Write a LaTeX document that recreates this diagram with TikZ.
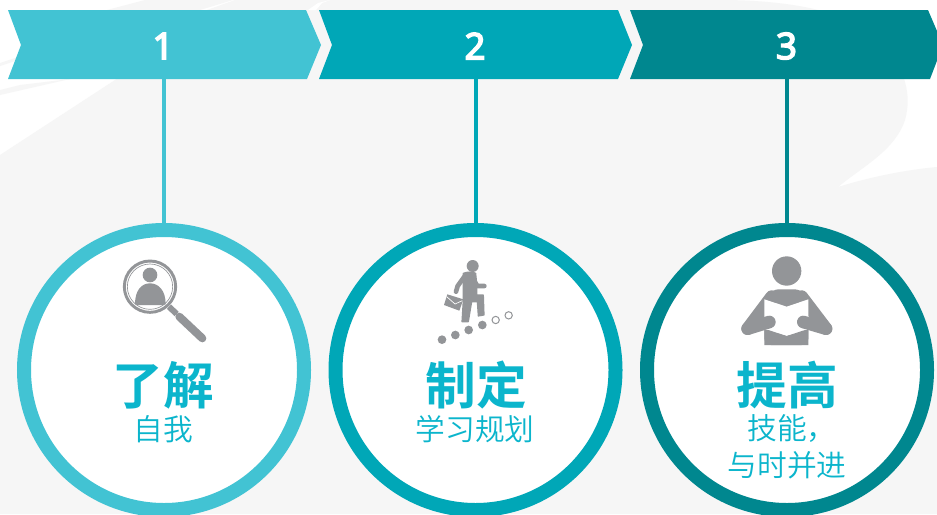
\documentclass[tikz,border=0pt]{standalone}
\usepackage{fontspec}
\setmainfont{Noto Sans}
\newfontfamily\numfont[FakeBold=4]{Noto Sans}
\newfontfamily\cjkbold{Noto Sans CJK SC Bold}
\newfontfamily\cjkreg{Noto Sans CJK SC DemiLight}
\definecolor{tealA}{HTML}{42C3D3}
\definecolor{tealB}{HTML}{00A7B7}
\definecolor{tealC}{HTML}{00878F}
\definecolor{labelteal}{HTML}{0BB5CC}
\definecolor{bggray}{HTML}{F6F6F6}
\definecolor{icongray}{HTML}{939598}
\tikzset{
  ringnode/.style={circle,fill=white,draw=#1,line width=10.5pt,minimum size=210pt,inner sep=0pt,outer sep=0pt},
  numlabel/.style={text=white,font=\fontsize{27.5pt}{28pt}\numfont,inner sep=0pt},
  biglabel/.style={text=labelteal,font=\fontsize{38pt}{38pt}\cjkbold,inner sep=0pt},
  smalllabel/.style={text=labelteal,font=\fontsize{22.3pt}{23pt}\cjkreg,inner sep=0pt},
  linkline/.style={draw=#1,line width=3pt},
  icoline/.style={draw=icongray,line cap=round,line join=round},
}
\begin{document}
\begin{tikzpicture}[x=0.75pt,y=-0.75pt]
\clip (0,0) rectangle (937,514);
\fill[white] (0,0) rectangle (937,514);
% background
\fill[bggray] (0,155) -- (115,80) -- (135,68) -- (207,10) -- (235,0) -- (720,0) .. controls (800,0) and (860,15) .. (885,45)
  .. controls (905,70) and (912,95) .. (905,120) .. controls (895,150) and (865,165) .. (838,187)
  .. controls (870,177) and (905,170) .. (937,167) -- (937,514) -- (0,514) -- cycle;
\fill[bggray] (0,63) -- (30,53) -- (30,56) -- (0,66) -- cycle;
\fill[bggray] (0,95) -- (70,79) -- (20,85) -- (0,90) -- cycle;
\fill[bggray] (107,10) -- (145,0) -- (233,0) -- (200,10) -- cycle;
\fill[white] (308,10) -- (318,3) -- (330,0) -- (322,3) -- (316,10) -- cycle;
% chevrons
\fill[tealA] (8,10) -- (306,10) -- (321,45) -- (307,79) -- (8,79) -- (21,45) -- cycle;
\fill[tealB] (319,10) -- (618,10) -- (632,45) -- (618,79) -- (319,79) -- (332,45) -- cycle;
\fill[tealC] (630,10) -- (928,10) -- (943,45) -- (930,79) -- (630,79) -- (643,45) -- cycle;
\coordinate (bar1) at (164,79);
\coordinate (bar2) at (475.5,79);
\coordinate (bar3) at (787,79);
\node[numlabel] (n1) at (163,46) {1};
\node[numlabel] (n2) at (475,46) {2};
\node[numlabel] (n3) at (786.5,46) {3};
% rings
\node[ringnode=tealA] (ring1) at (164,370) {};
\node[ringnode=tealB] (ring2) at (475.5,370) {};
\node[ringnode=tealC] (ring3) at (787,370) {};
\draw[linkline=tealA] (bar1) -- (ring1.north);
\draw[linkline=tealB] (bar2) -- (ring2.north);
\draw[linkline=tealC] (bar3) -- (ring3.north);
% magnifier
\begin{scope}[shift={(100,240)},scale=1/3]
\draw[icongray,line width=2.2pt] (150,140) circle (77);
\draw[icongray,line width=0.5pt] (150,140) circle (68);
\fill[icongray] (150,105) circle (22);
\fill[icongray] (105,193) .. controls (105,150) and (125,130) .. (150,130) .. controls (175,130) and (197,150) .. (197,193) -- (190,195) -- (112,195) -- cycle;
\draw[icoline,line width=4.5pt,line cap=butt] (207,200) -- (230,222);
\draw[icoline,line width=6pt] (238,230) -- (307,295);
\end{scope}
% walker
\begin{scope}[shift={(420,240)},scale=1/3]
\fill[icongray] (158,78) circle (18);
\filldraw[icongray,line width=0.9pt,line join=round] (130,100) .. controls (140,95) and (160,95) .. (167,100) -- (170,130) -- (170,165) -- (190,165) -- (192,225) -- (175,228) -- (172,185) -- (155,185) -- (145,245) -- (126,245) -- (130,180) -- cycle;
\draw[icoline,line width=3.5pt] (133,110) -- (113,138) -- (108,155);
\draw[icoline,line width=3.5pt] (160,118) -- (172,138) -- (193,138);
\fill[icongray] (82,163) -- (130,178) -- (118,212) -- (72,195) -- cycle;
\draw[white,line width=0.5pt] (80,170) -- (105,192) -- (127,182);
\foreach \x/\y in {66/299,106/285,146/270,187/255} \fill[icongray] (\x,\y) circle (13);
\foreach \x/\y in {227/240,266/226} \draw[icongray,line width=0.75pt] (\x,\y) circle (11);
\end{scope}
% reader
\begin{scope}[shift={(720,240)},scale=1/3]
\fill[icongray] (200,93) circle (44);
\fill[icongray,rounded corners=5pt] (133,315) -- (133,190) -- (155,148) -- (245,148) -- (265,190) -- (265,315) -- cycle;
\draw[icoline,line width=9.5pt] (155,170) -- (83,266);
\draw[icoline,line width=9.5pt] (245,170) -- (318,266);
\fill[white] (133,178) -- (200,200) -- (265,178) -- (265,270) -- (200,288) -- (133,270) -- cycle;
\fill[icongray] (133,270) -- (145,270) -- (200,288) -- (255,270) -- (265,270) -- (265,315) -- (133,315) -- cycle;
\draw[icoline,line width=9.5pt] (83,266) -- (148,246);
\draw[icoline,line width=9.5pt] (318,266) -- (250,246);
\end{scope}
% labels
\node[biglabel] (t1) at (163,385) {了解};
\node[biglabel] (t2) at (476,385) {制定};
\node[biglabel] (t3) at (787,385) {提高};
\node[smalllabel] (s1) at (163.5,429) {自我};
\node[smalllabel] (s2) at (475,429) {学习规划};
\node[smalllabel] (s3) at (792,429) {技能，};
\node[smalllabel] (s4) at (787,465) {与时并进};
\end{tikzpicture}
\end{document}
